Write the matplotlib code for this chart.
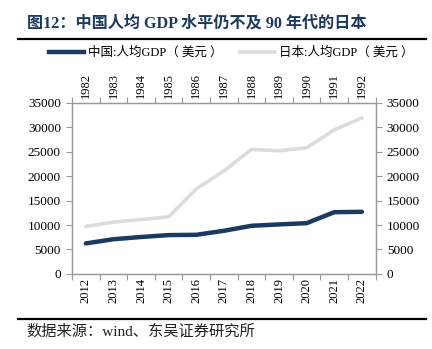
import matplotlib

matplotlib.use("Agg")
import matplotlib.pyplot as plt
import numpy as np
from matplotlib.lines import Line2D

plt.rcParams["font.family"] = ["Liberation Serif", "Noto Sans CJK SC"]

china_years = ["2012", "2013", "2014", "2015", "2016", "2017", "2018", "2019", "2020", "2021", "2022"]
japan_years = ["1982", "1983", "1984", "1985", "1986", "1987", "1988", "1989", "1990", "1991", "1992"]
china_gdp = [6240, 7100, 7550, 7940, 8000, 8820, 9840, 10120, 10380, 12620, 12690]
japan_gdp = [9700, 10580, 11120, 11670, 17360, 21030, 25440, 25160, 25780, 29440, 31880]

title_text = "图12：中国人均 GDP 水平仍不及 90 年代的日本"
china_label = "中国:人均GDP（ 美元 ）"
japan_label = "日本:人均GDP（ 美元 ）"
source_text = "数据来源：wind、东吴证券研究所"

navy = "#1b3a60"
light = "#dcdcdc"
frame = "#999999"

fig = plt.figure(figsize=(4.32, 3.49), dpi=100)
ax = fig.add_axes([0.1667, 0.215, 0.703, 0.491])
ax_top = ax.twiny()

pos = np.arange(len(china_years))
ax.plot(pos, china_gdp, color=navy, lw=3.2, solid_capstyle="round", zorder=3)
ax_top.plot(pos, japan_gdp, color=light, lw=2.6, solid_capstyle="round", zorder=2)

for a in (ax, ax_top):
    a.set_xlim(-0.5, len(pos) - 0.5)
    a.set_xticks(np.arange(len(pos) + 1) - 0.5)
    a.set_xticklabels([])
    a.set_xticks(pos, minor=True)
    a.tick_params(axis="x", which="major", length=4, color=frame, direction="out")
    a.tick_params(axis="x", which="minor", length=0, labelsize=9, rotation=90, pad=3)
    for s in a.spines.values():
        s.set_color(frame)
        s.set_linewidth(0.9)

ax.set_xticklabels(china_years, minor=True)
ax_top.set_xticklabels(japan_years, minor=True)

ax.set_ylim(0, 35000)
ax.set_yticks(np.arange(0, 35001, 5000))
ax.tick_params(axis="y", length=4, color=frame, direction="out", labelsize=9.5,
               right=True, labelright=True, pad=4)
ax_top.set_ylim(0, 35000)
ax_top.tick_params(axis="y", left=False, right=False, labelleft=False, labelright=False)

fig.text(0.062, 0.934, title_text, fontsize=11.6, fontweight="bold", color=navy,
         va="center", ha="left")
fig.add_artist(Line2D([0.042, 0.985], [0.889, 0.889], color="black", lw=1.6))

handles = [Line2D([], [], color=navy, lw=3.2), Line2D([], [], color=light, lw=2.6)]
fig.legend(handles, [china_label, japan_label], loc="center", bbox_to_anchor=(0.535, 0.848),
           ncol=2, frameon=False, fontsize=9, handlelength=2.8, handletextpad=0.3,
           columnspacing=1.4)

fig.add_artist(Line2D([0.042, 0.985], [0.086, 0.086], color="black", lw=1.6))
fig.text(0.062, 0.050, source_text, fontsize=11, va="center", ha="left", color="#222222")

fig.savefig("out.png", dpi=100)
